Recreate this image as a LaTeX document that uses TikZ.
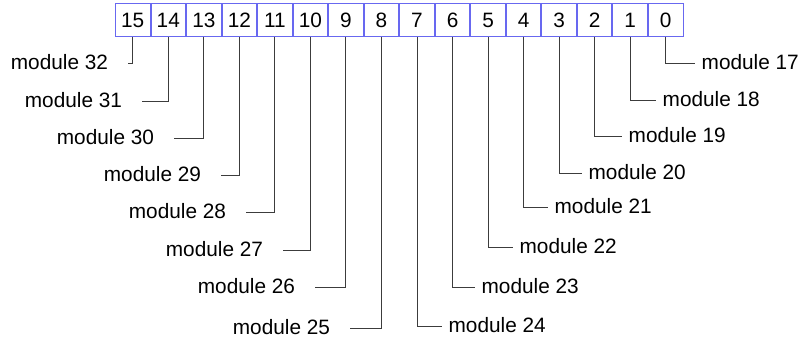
\documentclass[tikz,border=0pt]{standalone}
\usepackage{fontspec}
\setmainfont{Liberation Sans}
\usepackage{xcolor}
\usepackage{tikz}
\usetikzlibrary{positioning}
\definecolor{bitblue}{RGB}{104,104,240}
\definecolor{wiregray}{RGB}{60,60,60}

\begin{document}
\begin{tikzpicture}[
  x=0.75pt, y=-0.75pt,
  font=\fontsize{15.6}{18}\selectfont,
  bit/.style={draw=bitblue, line width=0.75pt, fill=white, minimum width=25.9pt,
              minimum height=24.4pt, inner sep=0pt},
  modl/.style={anchor=east, inner sep=0pt, outer sep=15pt, text height=9pt, text depth=0pt},
  modr/.style={anchor=west, inner sep=0pt, outer sep=5pt, text height=9pt, text depth=0pt},
  wire/.style={draw=wiregray, line width=0.75pt},
]
  \useasboundingbox (0,0) rectangle (807,341);

  % register bits
  \node[bit] (b15) at (132.75,20) {15};
  \node[bit, right=0pt of b15] (b14) {14};
  \node[bit, right=0pt of b14] (b13) {13};
  \node[bit, right=0pt of b13] (b12) {12};
  \node[bit, right=0pt of b12] (b11) {11};
  \node[bit, right=0pt of b11] (b10) {10};
  \node[bit, right=0pt of b10] (b9)  {9};
  \node[bit, right=0pt of b9]  (b8)  {8};
  \node[bit, right=0pt of b8]  (b7)  {7};
  \node[bit, right=0pt of b7]  (b6)  {6};
  \node[bit, right=0pt of b6]  (b5)  {5};
  \node[bit, right=0pt of b5]  (b4)  {4};
  \node[bit, right=0pt of b4]  (b3)  {3};
  \node[bit, right=0pt of b3]  (b2)  {2};
  \node[bit, right=0pt of b2]  (b1)  {1};
  \node[bit, right=0pt of b1]  (b0)  {0};

  % module labels
  \node[modl] (m32) at (128,64)  {module 32};
  \node[modl] (m31) at (142,102) {module 31};
  \node[modl] (m30) at (174,139) {module 30};
  \node[modl] (m29) at (221,176) {module 29};
  \node[modl] (m28) at (246,213) {module 28};
  \node[modl] (m27) at (283,251) {module 27};
  \node[modl] (m26) at (315,288) {module 26};
  \node[modl] (m25) at (350,329) {module 25};
  \node[modr] (m17) at (695,64)  {module 17};
  \node[modr] (m18) at (656,101) {module 18};
  \node[modr] (m19) at (622,137) {module 19};
  \node[modr] (m20) at (582,174) {module 20};
  \node[modr] (m21) at (548,208) {module 21};
  \node[modr] (m22) at (513,248) {module 22};
  \node[modr] (m23) at (475,288) {module 23};
  \node[modr] (m24) at (442,327) {module 24};

  \draw[wire] (b15) |- (m32);
  \draw[wire] (b14) |- (m31);
  \draw[wire] (b13) |- (m30);
  \draw[wire] (b12) |- (m29);
  \draw[wire] (b11) |- (m28);
  \draw[wire] (b10) |- (m27);
  \draw[wire] (b9)  |- (m26);
  \draw[wire] (b8)  |- (m25);
  \draw[wire] (b7)  |- (m24);
  \draw[wire] (b6)  |- (m23);
  \draw[wire] (b5)  |- (m22);
  \draw[wire] (b4)  |- (m21);
  \draw[wire] (b3)  |- (m20);
  \draw[wire] (b2)  |- (m19);
  \draw[wire] (b1)  |- (m18);
  \draw[wire] (b0)  |- (m17);
\end{tikzpicture}
\end{document}
